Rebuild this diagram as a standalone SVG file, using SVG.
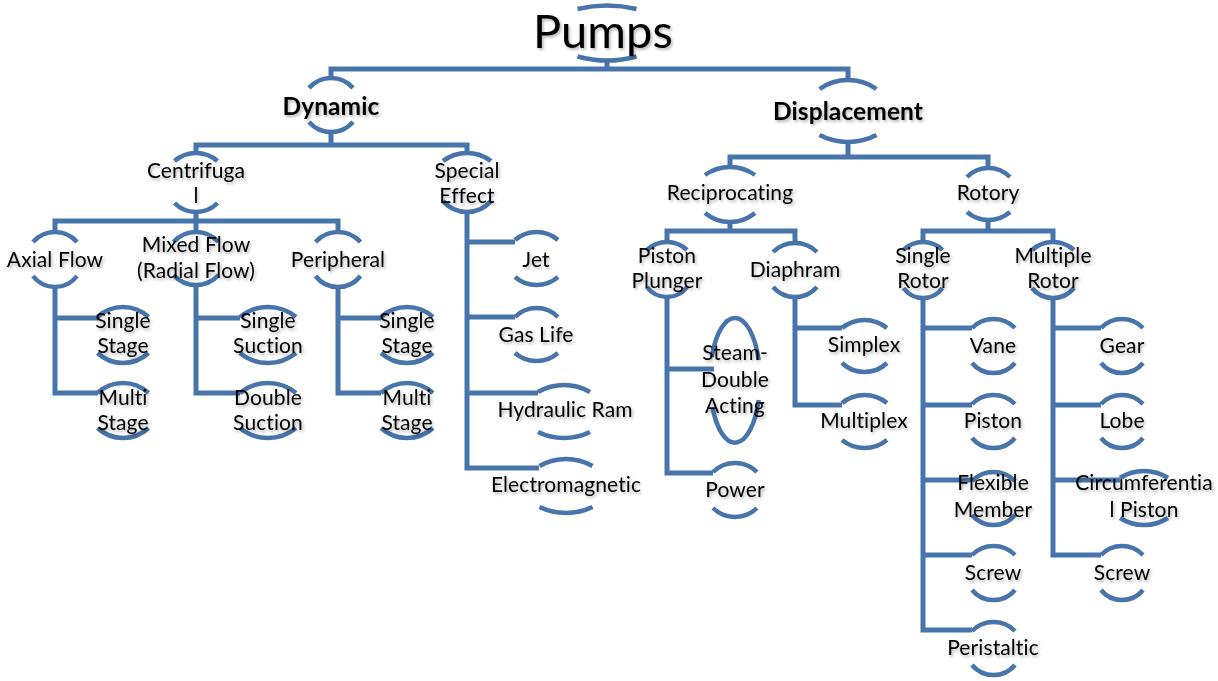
<svg xmlns="http://www.w3.org/2000/svg" width="1218" height="681" viewBox="0 0 1218 681">
<style>
.c{fill:none;stroke:#4774AA;stroke-width:5;stroke-linejoin:miter}
.a{fill:none;stroke:#4774AA;stroke-width:4.5}
text{font-family:Lato,"Open Sans","DejaVu Sans",sans-serif;font-size:21px;fill:#000;text-anchor:middle;filter:url(#sh);font-variant-ligatures:none;font-feature-settings:"liga" 0,"clig" 0,"dlig" 0;letter-spacing:0.1px}
.b{font-weight:bold;font-size:24.5px}
.t{font-size:47px}
</style>
<defs>
<filter id="sh" x="-20%" y="-30%" width="140%" height="170%">
<feDropShadow dx="1.5" dy="2" stdDeviation="1.6" flood-color="#000" flood-opacity="0.3"/>
</filter>
</defs>
<rect width="1218" height="681" fill="#fff"/>
<g id="connectors">
<path class="c" d="M607,60 V69 M331,78 V69 H848 V80"/>
<path class="c" d="M331,132 V145 M196,153 V145 H467 V153"/>
<path class="c" d="M196,212 V232 M55,232 V221 H338 V232"/>
<path class="c" d="M55,287 V393 H98 M55,318 H98"/>
<path class="c" d="M196,285 V393 H240 M196,318 H240"/>
<path class="c" d="M338,287 V393 H381 M338,318 H381"/>
<path class="c" d="M467,212 V468 H539 M467,242 H515 M467,317 H515 M467,393 H538"/>
<path class="c" d="M848,142 V157 M730,167 V157 H988 V168"/>
<path class="c" d="M730,222 V231 M667,242 V231 H795 V243"/>
<path class="c" d="M667,297 V473 H713 M667,369 H714"/>
<path class="c" d="M795,297 V405 H842 M795,328 H842"/>
<path class="c" d="M988,220 V231 M923,242 V231 H1053 V242"/>
<path class="c" d="M923,298 V630 H972 M923,328 H972 M923,405 H972 M923,480 H972 M923,555 H972"/>
<path class="c" d="M1053,298 V555 H1101 M1053,328 H1101 M1053,405 H1101 M1053,480 H1120"/>
</g>
<g id="n-pumps"><path class="a" d="M577.5,9 A126 126 0 0 1 636.5,9 M577.5,56.5 A111 111 0 0 0 636.5,56.5"/><text class="t" x="603" y="48">Pumps</text></g>
<g id="n-dynamic"><path class="a" d="M309,88 A29.2 29.2 0 0 1 353,88 M309,122 A29.2 29.2 0 0 0 353,122"/><text class="b" x="331" y="115">Dynamic</text></g>
<g id="n-displacement"><path class="a" d="M819.5,89 A49.6 49.6 0 0 1 876.5,89 M819.5,135 A61.5 61.5 0 0 0 876.5,135"/><text class="b" x="848" y="120">Displacement</text></g>
<g id="n-centrifugal"><path class="a" d="M174.5,161 A32.9 32.9 0 0 1 217.5,161 M174.5,203 A30.2 30.2 0 0 0 217.5,203"/><text x="196" y="178">Centrifuga</text><text x="196" y="203">l</text></g>
<g id="n-special"><path class="a" d="M443,161 A40 40 0 0 1 491,161 M443,201 A31.7 31.7 0 0 0 491,201"/><text x="467" y="178">Special</text><text x="467" y="203">Effect</text></g>
<g id="n-axial"><path class="a" d="M33,242 A29.2 29.2 0 0 1 77,242 M33,276 A27.5 27.5 0 0 0 77,276"/><text x="55" y="267">Axial Flow</text></g>
<g id="n-mixed"><path class="a" d="M173.5,242 A30.3 30.3 0 0 1 218.5,242 M173.5,275 A30.3 30.3 0 0 0 218.5,275"/><text x="196" y="252">Mixed Flow</text><text x="196" y="278">(Radial Flow)</text></g>
<g id="n-peripheral"><path class="a" d="M315.5,242 A30.3 30.3 0 0 1 360.5,242 M315.5,276 A28.5 28.5 0 0 0 360.5,276"/><text x="338" y="267">Peripheral</text></g>
<g id="n-single-stage-a"><path class="a" d="M97.5,317 A37.5 37.5 0 0 1 148.5,317 M97.5,353 A37.5 37.5 0 0 0 148.5,353"/><text x="123" y="328">Single</text><text x="123" y="353">Stage</text></g>
<g id="n-multi-stage-a"><path class="a" d="M97.5,393 A37.5 37.5 0 0 1 148.5,393 M97.5,428 A37.5 37.5 0 0 0 148.5,428"/><text x="123" y="405">Multi</text><text x="123" y="430">Stage</text></g>
<g id="n-single-suction"><path class="a" d="M240,317 A44.2 44.2 0 0 1 296,317 M240,353 A44.2 44.2 0 0 0 296,353"/><text x="268" y="328">Single</text><text x="268" y="353">Suction</text></g>
<g id="n-double-suction"><path class="a" d="M240,393 A44.2 44.2 0 0 1 296,393 M240,428 A44.2 44.2 0 0 0 296,428"/><text x="268" y="405">Double</text><text x="268" y="430">Suction</text></g>
<g id="n-single-stage-p"><path class="a" d="M381,317 A38.8 38.8 0 0 1 433,317 M381,353 A38.8 38.8 0 0 0 433,353"/><text x="407" y="328">Single</text><text x="407" y="353">Stage</text></g>
<g id="n-multi-stage-p"><path class="a" d="M381,393 A38.8 38.8 0 0 1 433,393 M381,428 A38.8 38.8 0 0 0 433,428"/><text x="407" y="405">Multi</text><text x="407" y="430">Stage</text></g>
<g id="n-jet"><path class="a" d="M515,240 A32.9 32.9 0 0 1 558,240 M515,277 A32.9 32.9 0 0 0 558,277"/><text x="536" y="267">Jet</text></g>
<g id="n-gaslife"><path class="a" d="M515,317 A30.2 30.2 0 0 1 558,317 M515,353 A32.9 32.9 0 0 0 558,353"/><text x="536" y="342">Gas Life</text></g>
<g id="n-hydraulic"><path class="a" d="M538,392 A51.8 51.8 0 0 1 590,392 M538,432 A59.3 59.3 0 0 0 590,432"/><text x="565" y="417">Hydraulic Ram</text></g>
<g id="n-electromagnetic"><path class="a" d="M539.5,466 A53.6 53.6 0 0 1 592.5,466 M539.5,507 A61.5 61.5 0 0 0 592.5,507"/><text x="566" y="492">Electromagnetic</text></g>
<g id="n-reciprocating"><path class="a" d="M705,175 A43 43 0 0 1 755,175 M705,213 A39.2 39.2 0 0 0 755,213"/><text x="730" y="200">Reciprocating</text></g>
<g id="n-rotory"><path class="a" d="M967,177 A30.2 30.2 0 0 1 1010,177 M967,212 A32.9 32.9 0 0 0 1010,212"/><text x="988" y="200">Rotory</text></g>
<g id="n-piston-plunger"><path class="a" d="M647,250 A29 29 0 0 1 687,250 M647,287 A25 25 0 0 0 687,287"/><text x="667" y="263">Piston</text><text x="667" y="288">Plunger</text></g>
<g id="n-diaphram"><path class="a" d="M773,252 A31.4 31.4 0 0 1 817,252 M773,287 A29.2 29.2 0 0 0 817,287"/><text x="795" y="277">Diaphram</text></g>
<g id="n-single-rotor"><path class="a" d="M903.5,250 A27.8 27.8 0 0 1 942.5,250 M903.5,288 A24 24 0 0 0 942.5,288"/><text x="923" y="263">Single</text><text x="923" y="288">Rotor</text></g>
<g id="n-multiple-rotor"><path class="a" d="M1032,250 A31.6 31.6 0 0 1 1074,250 M1032,288 A27 27 0 0 0 1074,288"/><text x="1053" y="263">Multiple</text><text x="1053" y="288">Rotor</text></g>
<g id="n-steam"><path class="a" d="M711.8,357 A25 62.5 0 0 1 758.6,360 M712.4,407 A25 62.5 0 0 0 758.7,400"/><text x="735" y="360">Steam-</text><text x="735" y="387">Double</text><text x="735" y="413">Acting</text></g>
<g id="n-power"><path class="a" d="M713,472 A31.4 31.4 0 0 1 757,472 M713,508 A31.4 31.4 0 0 0 757,508"/><text x="735" y="497">Power</text></g>
<g id="n-simplex"><path class="a" d="M842,328 A35.6 35.6 0 0 1 887,328 M842,363 A32.6 32.6 0 0 0 887,363"/><text x="864" y="352">Simplex</text></g>
<g id="n-multiplex"><path class="a" d="M842,403 A35.6 35.6 0 0 1 887,403 M842,440 A35.6 35.6 0 0 0 887,440"/><text x="864" y="428">Multiplex</text></g>
<g id="n-vane"><path class="a" d="M972,328 A30.2 30.2 0 0 1 1015,328 M972,363 A28 28 0 0 0 1015,363"/><text x="993" y="353">Vane</text></g>
<g id="n-piston"><path class="a" d="M972,404 A30.2 30.2 0 0 1 1015,404 M972,438 A28 28 0 0 0 1015,438"/><text x="993" y="428">Piston</text></g>
<g id="n-flexible"><path class="a" d="M972,481 A30.2 30.2 0 0 1 1015,481 M972,515 A28 28 0 0 0 1015,515"/><text x="993" y="490">Flexible</text><text x="993" y="517">Member</text></g>
<g id="n-screw-a"><path class="a" d="M972,555 A30.2 30.2 0 0 1 1015,555 M972,590 A28 28 0 0 0 1015,590"/><text x="993" y="580">Screw</text></g>
<g id="n-peristaltic"><path class="a" d="M972,631 A30.2 30.2 0 0 1 1015,631 M972,665 A28 28 0 0 0 1015,665"/><text x="993" y="655">Peristaltic</text></g>
<g id="n-gear"><path class="a" d="M1101,328 A29 29 0 0 1 1143,328 M1101,363 A27 27 0 0 0 1143,363"/><text x="1122" y="353">Gear</text></g>
<g id="n-lobe"><path class="a" d="M1101,404 A29 29 0 0 1 1143,404 M1101,438 A27 27 0 0 0 1143,438"/><text x="1122" y="428">Lobe</text></g>
<g id="n-circumferential"><path class="a" d="M1120,478 A44.6 44.6 0 0 1 1168,478 M1120,518 A44.6 44.6 0 0 0 1168,518"/><text x="1144" y="490">Circumferentia</text><text x="1144" y="517">l Piston</text></g>
<g id="n-screw-b"><path class="a" d="M1101,555 A29 29 0 0 1 1143,555 M1101,590 A27 27 0 0 0 1143,590"/><text x="1122" y="580">Screw</text></g>
</svg>
